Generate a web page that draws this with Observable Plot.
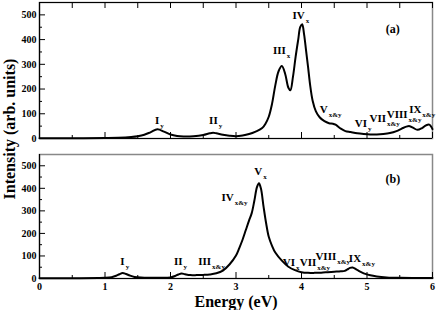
<!DOCTYPE html>
<html>
<head>
<meta charset="utf-8">
<script src="https://cdn.jsdelivr.net/npm/d3@7"></script>
<script src="https://cdn.jsdelivr.net/npm/@observablehq/plot@0.6"></script>
<style>
  body { margin: 0; background: white; }
  #wrap { position: relative; width: 436px; height: 310px; background: white; }
  #top, #bot { position: absolute; left: 0; }
  #top { top: 0; }
  #bot { top: 146px; }
  #ylab { position: absolute; left: 9.5px; top: 128.5px; transform: translate(-50%, -50%) rotate(-90deg);
          white-space: nowrap; font: bold 16px "Liberation Serif", serif; line-height: 1; color: black; }
</style>
</head>
<body>
<div id="wrap">
  <div id="top"></div>
  <div id="bot"></div>
  <div id="ylab">Intensity (arb. units)</div>
</div>
<script>
// ---- Panel (a) spectrum ----
const energyA = [0, 0.5, 1.0, 1.2, 1.4, 1.5, 1.6, 1.7, 1.8, 1.9, 2.0, 2.1, 2.2, 2.35, 2.5, 2.6, 2.65, 2.7, 2.8, 2.9, 3.0, 3.1, 3.2, 3.3, 3.4, 3.45, 3.5, 3.55, 3.6, 3.65, 3.7, 3.75, 3.8, 3.83, 3.87, 3.91, 3.95, 3.98, 4.01, 4.04, 4.07, 4.1, 4.13, 4.17, 4.22, 4.28, 4.35, 4.42, 4.48, 4.52, 4.6, 4.67, 4.75, 4.85, 4.95, 5.05, 5.15, 5.25, 5.35, 5.45, 5.53, 5.6, 5.65, 5.7, 5.77, 5.84, 5.9, 5.95, 6.0];
const intensityA = [1, 1, 2, 3, 6, 9, 15, 26, 37, 28, 16, 10, 8, 9, 14, 21, 23, 21, 15, 11, 9, 12, 18, 28, 42, 60, 88, 140, 215, 272, 293, 262, 205, 195, 250, 330, 400, 450, 462, 420, 355, 290, 220, 153, 110, 85, 70, 62, 60, 56, 40, 30, 26, 21, 18, 16, 16, 18, 22, 30, 40, 48, 50, 44, 35, 42, 53, 56, 38];

// ---- Panel (b) spectrum ----
const energyB = [0, 0.5, 0.9, 1.0, 1.1, 1.17, 1.22, 1.27, 1.32, 1.38, 1.45, 1.55, 1.7, 1.85, 2.0, 2.07, 2.12, 2.17, 2.22, 2.3, 2.4, 2.5, 2.6, 2.7, 2.8, 2.9, 3.0, 3.05, 3.1, 3.15, 3.2, 3.24, 3.28, 3.32, 3.35, 3.38, 3.42, 3.46, 3.5, 3.55, 3.6, 3.7, 3.8, 3.9, 4.0, 4.1, 4.2, 4.3, 4.4, 4.5, 4.6, 4.66, 4.7, 4.74, 4.78, 4.83, 4.88, 4.95, 5.05, 5.15, 5.3, 5.5, 6.0];
const intensityB = [1, 1, 2, 3, 6, 12, 19, 24, 20, 13, 7, 4, 3, 3, 5, 11, 18, 22, 19, 15, 15, 16, 18, 23, 35, 62, 102, 135, 172, 215, 258, 290, 345, 405, 422, 400, 320, 245, 185, 145, 115, 79, 52, 37, 28, 25, 25, 26, 28, 30, 32, 34, 40, 47, 49, 42, 33, 23, 14, 9, 5, 3, 2];

// ---- Peak labels, panel (a) ----
const labelMainA = ["I", "II", "III", "IV", "V", "VI", "VII", "VIII", "IX"];
const labelSubA  = ["y", "y", "x", "x", "x&y", "y", "x&y", "x&y", "x&y"];
const labelEA    = [1.83, 2.72, 3.76, 4.05, 4.40, 5.00, 5.29, 5.62, 5.83];
const labelIA    = [60, 60, 340, 485, 102, 46, 68, 82, 104];

// ---- Peak labels, panel (b) ----
const labelMainB = ["I", "II", "III", "IV", "V", "VI", "VII", "VIII", "IX"];
const labelSubB  = ["y", "y", "x&y", "x&y", "x", "x", "x&y", "x&y", "x&y"];
const labelEB    = [1.30, 2.185, 2.62, 2.965, 3.40, 3.90, 4.225, 4.53, 4.91];
const labelIB    = [61, 61, 58, 345, 460, 57, 56, 80, 74];

const panelTags = ["(a)", "(b)"];
const tagE = 5.394;
const tagIA = 427, tagIB = 422;

// ---- Axes ----
const xMajor = [0, 1, 2, 3, 4, 5, 6];
const xMinor = [0.5, 1.5, 2.5, 3.5, 4.5, 5.5];
const yMajor = [0, 100, 200, 300, 400, 500];
const yMinor = [50, 150, 250, 350, 450];
const xTitle = "Energy (eV)";

const W = 436, ML = 39, MR = 4;
const innerW = W - ML - MR;
const font = "Liberation Serif";

const dataA = energyA.map((e, i) => ({e, v: intensityA[i]}));
const dataB = energyB.map((e, i) => ({e, v: intensityB[i]}));
const labsA = labelMainA.map((m, i) => ({m, s: labelSubA[i], e: labelEA[i], v: labelIA[i]}));
const labsB = labelMainB.map((m, i) => ({m, s: labelSubB[i], e: labelEB[i], v: labelIB[i]}));

function panel({data, labs, tag, tagI, height, mt, mb, bottomAxis, topTicks}) {
  const innerH = height - mt - mb;
  const marks = [
    Plot.frame({stroke: "#888", strokeWidth: 1.5}),
    Plot.ruleX([0], {stroke: "black", strokeWidth: 1.2}),
    Plot.ruleY([0], {stroke: "black", strokeWidth: 1.2}),
    // y ticks (inward)
    Plot.ruleY(yMajor, {y: d => d, insetRight: innerW - 6, stroke: "black"}),
    Plot.ruleY(yMinor, {y: d => d, insetRight: innerW - 3, stroke: "black"}),
    // x ticks bottom (inward)
    Plot.ruleX(xMajor, {x: d => d, insetTop: innerH - 6, stroke: "black"}),
    Plot.ruleX(xMinor, {x: d => d, insetTop: innerH - 3, stroke: "black"}),
    // y tick labels
    Plot.text(yMajor, {y: d => d, text: d => String(d), frameAnchor: "left", textAnchor: "end", dx: -3, fontSize: 10, fontWeight: "bold"}),
    // curve
    Plot.line(data, {x: "e", y: "v", curve: "catmull-rom", stroke: "black", strokeWidth: 2}),
    // peak labels
    Plot.text(labs, {x: "e", y: "v", text: "m", textAnchor: "end", lineAnchor: "bottom", fontSize: 11, fontWeight: "bold"}),
    Plot.text(labs, {x: "e", y: "v", text: "s", textAnchor: "start", lineAnchor: "bottom", dx: 1, dy: 4, fontSize: 7, fontWeight: "bold"}),
    Plot.text([tag], {x: tagE, y: tagI, text: d => d, textAnchor: "middle", lineAnchor: "bottom", fontSize: 12, fontWeight: "bold"})
  ];
  if (topTicks) {
    marks.push(Plot.ruleY([550], {stroke: "black", strokeWidth: 1.2}));
    marks.push(Plot.ruleX(xMajor, {x: d => d, insetBottom: innerH - 6, stroke: "black"}));
    marks.push(Plot.ruleX(xMinor, {x: d => d, insetBottom: innerH - 6, stroke: "black"}));
  }
  if (bottomAxis) {
    marks.push(Plot.text(xMajor, {x: d => d, text: d => String(d), frameAnchor: "bottom", lineAnchor: "top", dy: 4, fontSize: 10, fontWeight: "bold"}));
    marks.push(Plot.text([xTitle], {text: d => d, frameAnchor: "bottom", lineAnchor: "bottom", dy: 28, fontSize: 16, fontWeight: "bold"}));
  }
  return Plot.plot({
    width: W, height, marginTop: mt, marginBottom: mb, marginLeft: ML, marginRight: MR,
    x: {domain: [0, 6], axis: null},
    y: {domain: [0, 550], axis: null},
    style: {fontFamily: font, fontWeight: "bold", background: "white", color: "black", overflow: "visible"},
    marks
  });
}

document.getElementById("top").append(panel({data: dataA, labs: labsA, tag: panelTags[0], tagI: tagIA, height: 146, mt: 2, mb: 8, bottomAxis: false, topTicks: true}));
document.getElementById("bot").append(panel({data: dataB, labs: labsB, tag: panelTags[1], tagI: tagIB, height: 164, mt: 8, mb: 32, bottomAxis: true, topTicks: false}));
</script>
</body>
</html>
